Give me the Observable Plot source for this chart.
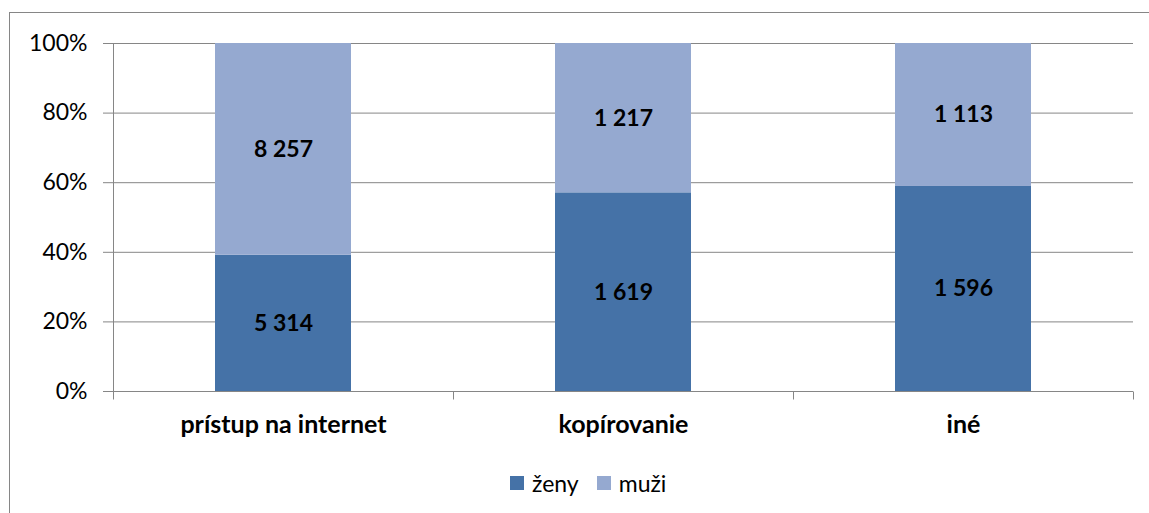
<!DOCTYPE html>
<html><head><meta charset="utf-8">
<script src="https://cdn.jsdelivr.net/npm/d3@7"></script>
<script src="https://cdn.jsdelivr.net/npm/@observablehq/plot@0.6"></script>
<style>
body{margin:0;background:#fff;font-family:Lato,"Open Sans",sans-serif;overflow:hidden}
#frame{position:absolute;left:9px;top:12px;width:1160px;height:530px;border:1px solid #868686;box-sizing:border-box}
#chart{position:absolute;left:0;top:0}
#legend{position:absolute;left:510px;top:469px;font-size:23px;display:flex;align-items:center;color:#000}
.sw{display:inline-block;width:14px;height:14px;margin-right:8px}
.item{display:flex;align-items:center;margin-right:18px}
</style></head>
<body>
<div id="frame"></div>
<div id="chart"></div>
<div id="legend"></div>
<script>
const categories = ["prístup na internet", "kopírovanie", "iné"];
const series = ["ženy", "muži"];
const zeny = [5314, 1619, 1596];
const muzi = [8257, 1217, 1113];
const yTicks = [0, 0.2, 0.4, 0.6, 0.8, 1];
const colors = ["#4572A7", "#95A9D0"];

const rows = categories.flatMap((c, i) => [
  {cat: c, s: series[0], v: zeny[i]},
  {cat: c, s: series[1], v: muzi[i]}
]);
const fmt = v => d3.format(",")(v).replace(/,/g, " ");
const grid = "#868686";

const lines = (index, scales, values, dimensions) => {
  const {x, y} = scales;
  const bw = typeof x.bandwidth === "function" ? x.bandwidth() : x.bandwidth;
  const xs = categories.map(c => x(c)).concat([x(categories[categories.length - 1]) + bw]);
  const g = d3.create("svg:g").attr("stroke", grid).attr("stroke-width", 1);
  const y0 = Math.round(y(0)) + 0.5, y1 = Math.round(y(1)) + 0.5;
  g.append("line").attr("x1", Math.round(xs[0]) + 0.5).attr("x2", Math.round(xs[0]) + 0.5).attr("y1", y0).attr("y2", y1);
  for (const xv of xs) {
    const xx = Math.round(xv) + 0.5;
    g.append("line").attr("x1", xx).attr("x2", xx).attr("y1", y0).attr("y2", y0 + 8);
  }
  return g.node();
};

const chart = Plot.plot({
  width: 1149,
  height: 455,
  marginLeft: 112,
  marginRight: 16,
  marginTop: 43,
  marginBottom: 64,
  style: {background: "transparent", fontFamily: "Lato, 'Open Sans', sans-serif", overflow: "visible"},
  x: {domain: categories, padding: 0, label: null},
  y: {domain: [0, 1], label: null},
  color: {domain: series, range: colors},
  marks: [
    Plot.ruleY(yTicks, {stroke: grid}),
    Plot.barY(rows, Plot.stackY({x: "cat", y: "v", fill: "s", offset: "normalize", insetLeft: 102, insetRight: 102})),
    Plot.text(rows, Plot.stackY({x: "cat", y: "v", z: "s", offset: "normalize", text: d => fmt(d.v), fontWeight: "bold", fontSize: 23, fill: "#000"})),
    Plot.axisY({ticks: yTicks, tickFormat: d3.format(".0%"), tickSize: 9, tickPadding: 16, fontSize: 23, stroke: grid, fill: "#000", label: null}),
    Plot.axisX({tickSize: 0, tickPadding: 24, fontSize: 25, fontWeight: "bold", fill: "#000", label: null}),
    lines
  ]
});
document.getElementById("chart").appendChild(chart);

const legend = document.getElementById("legend");
series.forEach((s, i) => {
  const item = document.createElement("span");
  item.className = "item";
  const sw = document.createElement("span");
  sw.className = "sw";
  sw.style.background = colors[i];
  item.appendChild(sw);
  item.appendChild(document.createTextNode(s));
  legend.appendChild(item);
});
</script>
</body></html>
